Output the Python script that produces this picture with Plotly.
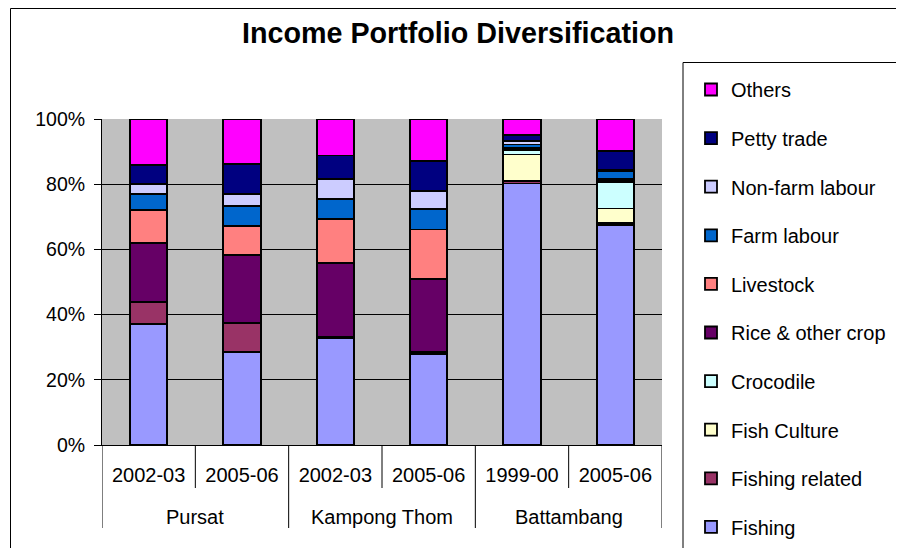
import plotly.graph_objects as go

regions = ["Pursat", "Pursat", "Kampong Thom", "Kampong Thom", "Battambang", "Battambang"]
years = ["2002-03", "2005-06", "2002-03", "2005-06", "1999-00", "2005-06"]

fishing = [37.0, 28.6, 32.9, 28.0, 80.2, 67.4]
fishing_related = [6.8, 8.9, 0.3, 0.5, 0.9, 0.5]
fish_culture = [0, 0, 0, 0, 8.0, 4.5]
crocodile = [0, 0, 0, 0, 1.3, 8.2]
rice = [18.2, 20.7, 22.7, 22.5, 0.4, 0.5]
livestock = [10.0, 9.0, 13.5, 15.1, 0.4, 0.3]
farm_labour = [5.0, 6.0, 6.1, 6.4, 1.0, 2.4]
nonfarm_labour = [3.1, 3.9, 6.2, 5.4, 1.0, 0.5]
petty_trade = [5.9, 9.2, 7.1, 9.3, 2.0, 5.8]
others = [14.0, 13.7, 11.2, 12.8, 4.8, 9.7]

y_ticks = [0, 20, 40, 60, 80, 100]
y_tick_labels = ["0%", "20%", "40%", "60%", "80%", "100%"]

series = [
    ("Fishing", fishing, "#9999FF"),
    ("Fishing related", fishing_related, "#993366"),
    ("Fish Culture", fish_culture, "#FFFFCC"),
    ("Crocodile", crocodile, "#CCFFFF"),
    ("Rice & other crop", rice, "#660066"),
    ("Livestock", livestock, "#FF8080"),
    ("Farm labour", farm_labour, "#0066CC"),
    ("Non-farm labour", nonfarm_labour, "#CCCCFF"),
    ("Petty trade", petty_trade, "#000080"),
    ("Others", others, "#FF00FF"),
]

FONT = "Arial, Liberation Sans, sans-serif"
positions = list(range(len(years)))

# layout geometry (figure pixels)
L, T, PW, PH = 94, 111, 560, 326
W, H = 904, 548

fig = go.Figure()
n = len(series)
for k, (name, vals, col) in enumerate(series):
    fig.add_trace(go.Bar(
        x=positions, y=vals, name=name, legendgroup=name, legendrank=n - k, width=0.4,
        marker=dict(color=col, line=dict(color="black", width=1.8)),
    ))

def px_x(p):
    return (p - L) / PW

def px_y(p):
    return (T + PH - p) / PH

fig.update_layout(
    barmode="stack", barnorm="percent",
    width=W, height=H,
    margin=dict(l=L, r=W - L - PW, t=T, b=H - T - PH),
    paper_bgcolor="white", plot_bgcolor="#C0C0C0",
    font=dict(family=FONT, size=20, color="black"),
    title=dict(text="<b>Income Portfolio Diversification</b>", x=450 / W, xref="container",
               xanchor="center", y=1 - 25 / H, yref="container", yanchor="middle",
               font=dict(family=FONT, size=28.7, color="black")),
    legend=dict(traceorder="grouped", x=px_x(683), xanchor="left",
                y=px_y(62), yanchor="top", maxheight=700,
                bgcolor="rgba(0,0,0,0)", borderwidth=0,
                font=dict(family=FONT, size=20), tracegroupgap=19.6,
                itemwidth=30),
    showlegend=True,
)
fig.update_yaxes(range=[0, 100], tickvals=y_ticks, ticktext=y_tick_labels,
                 showgrid=True, gridcolor="black", gridwidth=1,
                 ticks="outside", ticklen=7, tickcolor="black", ticklabelstandoff=5,
                 showline=True, linecolor="black", linewidth=1,
                 zeroline=False, tickfont=dict(size=19.5))
fig.update_xaxes(range=[-0.5, len(years) - 0.5], tickvals=positions, ticktext=years,
                 showgrid=False, zeroline=False, ticks="", ticklabelstandoff=12,
                 showline=True, linecolor="black", linewidth=1,
                 tickfont=dict(size=20))

# category separators below the axis
short_end = px_y(480)
long_end = px_y(520)
for b in range(len(years) + 1):
    xb = b - 0.5
    is_region_edge = b == 0 or b == len(years) or regions[b - 1] != regions[b]
    fig.add_shape(type="line", xref="x", yref="paper", x0=xb, x1=xb, y0=0,
                  y1=long_end if is_region_edge else short_end,
                  line=dict(color="black", width=1))

# region labels
seen = []
for r in regions:
    if r not in seen:
        seen.append(r)
for r in seen:
    idx = [i for i, v in enumerate(regions) if v == r]
    fig.add_annotation(x=sum(idx) / len(idx), xref="x", y=0, yref="paper",
                       yanchor="middle", yshift=-72, text=r, showarrow=False,
                       font=dict(family=FONT, size=20, color="black"))

# legend frame and outer chart frame
fig.add_shape(type="rect", xref="paper", yref="paper",
              x0=px_x(675), x1=px_x(890), y0=px_y(560), y1=px_y(54.5),
              line=dict(color="black", width=1), fillcolor="white", layer="below")
fig.add_shape(type="rect", xref="paper", yref="paper",
              x0=px_x(2.5), x1=px_x(903), y0=px_y(560), y1=px_y(0.5),
              line=dict(color="black", width=1), fillcolor="rgba(0,0,0,0)", layer="below")
fig.write_html("out.html")
